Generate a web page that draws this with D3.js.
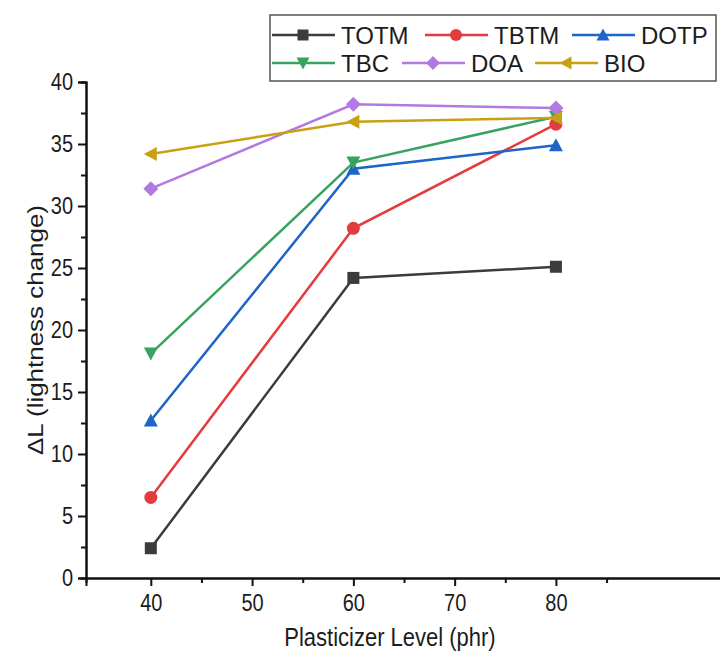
<!DOCTYPE html>
<html>
<head>
<meta charset="utf-8">
<script src="https://cdn.jsdelivr.net/npm/d3@7"></script>
<style>
  body { margin: 0; background: #fff; }
  svg text {
    font-family: "Liberation Sans", Arial, sans-serif;
    fill: #1c1c1c;
    transform-box: fill-box;
    transform-origin: center;
  }
  /* reference text looks a bit tall and narrow */
  svg text.tall { transform: scaleY(1.18); }
  svg text.tallr { transform: translate(43px, 330px) rotate(-90deg) scaleX(1.18); transform-box: view-box; transform-origin: 0 0; }
</style>
</head>
<body>
<script>
// data
var levels = [40, 60, 80];
var seriesNames = ["TOTM", "TBTM", "DOTP", "TBC", "DOA", "BIO"];
var totm = [2.4, 24.2, 25.1];
var tbtm = [6.5, 28.2, 36.6];
var dotp = [12.7, 33.0, 34.9];
var tbc  = [18.1, 33.5, 37.2];
var doa  = [31.4, 38.2, 37.9];
var bio  = [34.2, 36.8, 37.1];
var xTicks = [40, 50, 60, 70, 80];
var xMinor = [45, 55, 65, 75, 85];
var yTicks = [0, 5, 10, 15, 20, 25, 30, 35, 40];
var yMinor = [2.5, 7.5, 12.5, 17.5, 22.5, 27.5, 32.5, 37.5];

var w = 720, h = 653;
var colors = ["#3c3c3c", "#e43c3e", "#1f64c8", "#38a35f", "#b27ae0", "#c9a012"];
var symbols = ["square", "circle", "up", "down", "diamond", "left"];
var allValues = [totm, tbtm, dotp, tbc, doa, bio];

var svg = d3.select("body").append("svg")
    .attr("width", w).attr("height", h);

var x = d3.scaleLinear().domain([33.6, 96.3]).range([86, 721]);
var y = d3.scaleLinear().domain([0, 40]).range([578, 82]);

// axes
svg.append("g").attr("transform", "translate(0," + y(0) + ")")
    .call(d3.axisBottom(x).tickValues(xTicks).tickSize(8).tickPadding(10));
svg.append("g").attr("transform", "translate(0," + y(0) + ")")
    .call(d3.axisBottom(x).tickValues(xMinor).tickSize(5).tickFormat(""));
svg.append("g").attr("transform", "translate(" + x(33.6) + ",0)")
    .call(d3.axisLeft(y).tickValues(yTicks).tickSize(8).tickPadding(5));
svg.append("g").attr("transform", "translate(" + x(33.6) + ",0)")
    .call(d3.axisLeft(y).tickValues(yMinor).tickSize(5).tickFormat(""));

svg.selectAll(".domain").attr("stroke", "#111").attr("stroke-width", 2);
svg.selectAll(".tick line").attr("stroke", "#111").attr("stroke-width", 2);
svg.selectAll(".tick text")
    .attr("class", "tall")
    .attr("font-family", null)
    .style("font-size", "20px");

// axis titles
svg.append("text")
    .attr("class", "tall")
    .attr("x", 390).attr("y", 645)
    .attr("text-anchor", "middle")
    .style("font-size", "22px")
    .text("Plasticizer Level (phr)");
svg.append("text")
    .attr("class", "tallr")
    .attr("text-anchor", "middle")
    .style("font-size", "22px")
    .text("\u0394L (lightness change)");

// marker shapes
function marker(g, type, size, color) {
    var s = size / 2;
    if (type === "square") {
        g.append("rect").attr("x", -s).attr("y", -s).attr("width", size).attr("height", size).attr("fill", color);
    } else if (type === "circle") {
        g.append("circle").attr("r", s + 0.5).attr("fill", color);
    } else {
        var pts;
        if (type === "up") pts = [[0, -s - 1], [s + 1, s], [-s - 1, s]];
        if (type === "down") pts = [[0, s + 1], [s + 1, -s], [-s - 1, -s]];
        if (type === "left") pts = [[-s - 1, 0], [s, -s - 1], [s, s + 1]];
        if (type === "diamond") pts = [[0, -s - 1.5], [s + 1.5, 0], [0, s + 1.5], [-s - 1.5, 0]];
        g.append("polygon").attr("points", pts.map(function(p) { return p.join(","); }).join(" ")).attr("fill", color);
    }
}

var line = d3.line()
    .x(function(d) { return x(d[0]); })
    .y(function(d) { return y(d[1]); });

allValues.forEach(function(vals, i) {
    var pts = levels.map(function(l, j) { return [l, vals[j]]; });
    svg.append("path")
        .datum(pts)
        .attr("d", line)
        .attr("fill", "none")
        .attr("stroke", colors[i])
        .attr("stroke-width", 2.5);
    pts.forEach(function(p) {
        var g = svg.append("g").attr("transform", "translate(" + x(p[0]) + "," + y(p[1]) + ")");
        marker(g, symbols[i], 12, colors[i]);
    });
});

// legend
var legend = svg.append("g");
legend.append("rect")
    .attr("x", 270).attr("y", 15).attr("width", 446).attr("height", 66)
    .attr("fill", "#fff").attr("stroke", "#555").attr("stroke-width", 1.5);
var legendPos = [[272, 35], [425, 35], [572, 35], [272, 63], [402, 63], [535, 63]];
seriesNames.forEach(function(name, i) {
    var lx = legendPos[i][0], ly = legendPos[i][1];
    legend.append("line")
        .attr("x1", lx).attr("x2", lx + 63).attr("y1", ly).attr("y2", ly)
        .attr("stroke", colors[i]).attr("stroke-width", 2.5);
    var g = legend.append("g").attr("transform", "translate(" + (lx + 31) + "," + ly + ")");
    marker(g, symbols[i], 11, colors[i]);
    legend.append("text")
        .attr("x", lx + 69).attr("y", ly + 9)
        .style("font-size", "24px")
        .text(name);
});
</script>
</body>
</html>
